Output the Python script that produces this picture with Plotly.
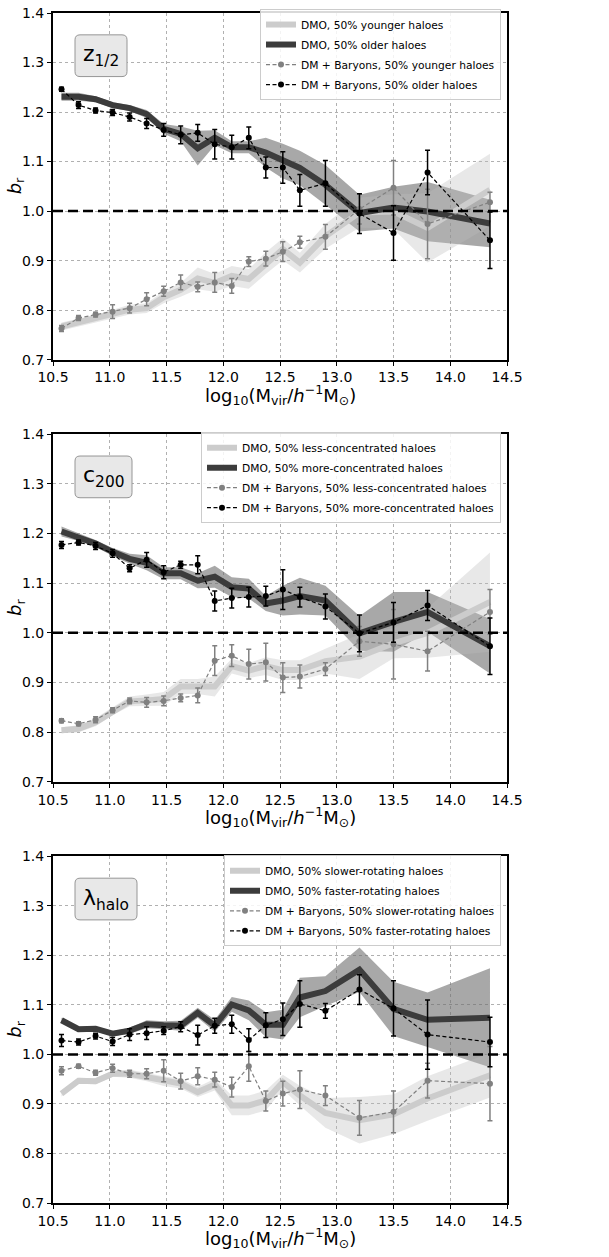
import plotly.graph_objects as go

mass = [10.575, 10.725, 10.875, 11.025, 11.175, 11.325, 11.475, 11.625, 11.775, 11.925,
        12.075, 12.225, 12.375, 12.525, 12.675, 12.9, 13.2, 13.5, 13.8, 14.35]

# Panel 1: z_1/2
z_dmo_young = [0.767, 0.775, 0.782, 0.792, 0.801, 0.804, 0.826, 0.841, 0.864, 0.855,
               0.869, 0.863, 0.895, 0.923, 0.896, 0.949, 0.997, 0.999, 0.966, 1.043]
z_dmo_young_sig = [0.008, 0.008, 0.008, 0.009, 0.01, 0.01, 0.012, 0.014, 0.022, 0.018,
                   0.02, 0.02, 0.022, 0.022, 0.02, 0.025, 0.03, 0.035, 0.07, 0.073]
z_dmo_old = [1.231, 1.231, 1.226, 1.214, 1.208, 1.196, 1.166, 1.156, 1.127, 1.148,
             1.129, 1.129, 1.118, 1.101, 1.087, 1.053, 0.996, 1.007, 0.999, 0.975]
z_dmo_old_sig = [0.008, 0.008, 0.006, 0.006, 0.006, 0.008, 0.01, 0.015, 0.035, 0.015,
                 0.012, 0.012, 0.03, 0.035, 0.035, 0.04, 0.037, 0.042, 0.06, 0.048]
z_dmb_young = [0.763, 0.784, 0.791, 0.797, 0.804, 0.822, 0.838, 0.856, 0.847, 0.856,
               0.849, 0.898, 0.904, 0.918, 0.937, 0.948, 1.004, 1.047, 0.974, 1.018]
z_dmb_young_err = [0.006, 0.005, 0.005, 0.014, 0.01, 0.013, 0.01, 0.015, 0.01, 0.02,
                   0.015, 0.01, 0.015, 0.02, 0.012, 0.025, 0.03, 0.055, 0.07, 0.02]
z_dmb_old = [1.246, 1.214, 1.203, 1.199, 1.190, 1.177, 1.164, 1.154, 1.158, 1.135,
             1.129, 1.148, 1.088, 1.088, 1.042, 1.056, 0.995, 0.956, 1.078, 0.941]
z_dmb_old_err = [0.004, 0.007, 0.005, 0.006, 0.008, 0.01, 0.013, 0.018, 0.017, 0.03,
                 0.024, 0.022, 0.021, 0.032, 0.032, 0.046, 0.04, 0.055, 0.045, 0.057]

# Panel 2: c_200
c_dmo_less = [0.804, 0.807, 0.820, 0.842, 0.862, 0.864, 0.867, 0.892, 0.892, 0.892,
              0.933, 0.924, 0.933, 0.925, 0.925, 0.943, 0.952, 0.979, 1.000, 1.062]
c_dmo_less_sig = [0.006, 0.007, 0.008, 0.008, 0.01, 0.012, 0.014, 0.015, 0.015, 0.02,
                  0.015, 0.015, 0.018, 0.02, 0.02, 0.025, 0.045, 0.03, 0.05, 0.1]
c_dmo_more = [1.204, 1.193, 1.180, 1.163, 1.149, 1.141, 1.120, 1.120, 1.105, 1.113,
              1.092, 1.089, 1.059, 1.065, 1.074, 1.065, 0.999, 1.022, 1.042, 0.973]
c_dmo_more_sig = [0.01, 0.008, 0.007, 0.008, 0.01, 0.015, 0.012, 0.012, 0.015, 0.022,
                  0.02, 0.02, 0.015, 0.03, 0.037, 0.03, 0.035, 0.06, 0.04, 0.055]
c_dmb_less = [0.823, 0.817, 0.825, 0.844, 0.863, 0.860, 0.863, 0.869, 0.874, 0.944,
              0.954, 0.937, 0.941, 0.910, 0.912, 0.927, 0.983, 0.977, 0.963, 1.042]
c_dmb_less_err = [0.004, 0.004, 0.006, 0.005, 0.006, 0.01, 0.01, 0.008, 0.015, 0.03,
                  0.022, 0.03, 0.038, 0.03, 0.023, 0.013, 0.03, 0.07, 0.04, 0.045]
c_dmb_more = [1.177, 1.182, 1.175, 1.160, 1.130, 1.147, 1.122, 1.137, 1.137, 1.064,
              1.070, 1.072, 1.074, 1.087, 1.072, 1.053, 0.999, 1.021, 1.055, 0.973]
c_dmb_more_err = [0.007, 0.005, 0.007, 0.008, 0.007, 0.015, 0.013, 0.007, 0.018, 0.02,
                  0.02, 0.02, 0.02, 0.04, 0.02, 0.025, 0.037, 0.04, 0.03, 0.057]

# Panel 3: lambda_halo
l_dmo_slow = [0.921, 0.947, 0.946, 0.961, 0.961, 0.954, 0.946, 0.941, 0.924, 0.939,
              0.897, 0.897, 0.907, 0.944, 0.917, 0.882, 0.867, 0.879, 0.911, 0.958]
l_dmo_slow_sig = [0.006, 0.006, 0.006, 0.006, 0.008, 0.008, 0.01, 0.01, 0.01, 0.012,
                  0.02, 0.02, 0.02, 0.015, 0.02, 0.03, 0.047, 0.04, 0.045, 0.045]
l_dmo_fast = [1.069, 1.051, 1.052, 1.042, 1.048, 1.061, 1.059, 1.058, 1.084, 1.058,
              1.101, 1.089, 1.060, 1.060, 1.115, 1.128, 1.171, 1.092, 1.070, 1.074]
l_dmo_fast_sig = [0.005, 0.005, 0.005, 0.005, 0.006, 0.008, 0.008, 0.01, 0.01, 0.012,
                  0.015, 0.02, 0.025, 0.03, 0.04, 0.03, 0.045, 0.055, 0.055, 0.1]
l_dmb_slow = [0.967, 0.976, 0.963, 0.972, 0.961, 0.961, 0.967, 0.946, 0.956, 0.949,
              0.934, 0.976, 0.906, 0.921, 0.929, 0.917, 0.872, 0.884, 0.947, 0.941]
l_dmb_slow_err = [0.008, 0.004, 0.005, 0.008, 0.007, 0.01, 0.022, 0.016, 0.017, 0.015,
                  0.02, 0.03, 0.02, 0.025, 0.038, 0.02, 0.035, 0.042, 0.035, 0.075]
l_dmb_fast = [1.028, 1.025, 1.037, 1.026, 1.040, 1.043, 1.048, 1.056, 1.039, 1.058,
              1.061, 1.029, 1.059, 1.071, 1.102, 1.088, 1.131, 1.093, 1.040, 1.025]
l_dmb_fast_err = [0.012, 0.006, 0.006, 0.008, 0.012, 0.013, 0.008, 0.01, 0.02, 0.015,
                  0.018, 0.023, 0.025, 0.033, 0.047, 0.015, 0.03, 0.056, 0.07, 0.05]

panel_labels = ["z<sub>1/2</sub>", "c<sub>200</sub>", "λ<sub>halo</sub>"]
legend_names = [
    ["DMO, 50% younger haloes", "DMO, 50% older haloes",
     "DM + Baryons, 50% younger haloes", "DM + Baryons, 50% older haloes"],
    ["DMO, 50% less-concentrated haloes", "DMO, 50% more-concentrated haloes",
     "DM + Baryons, 50% less-concentrated haloes", "DM + Baryons, 50% more-concentrated haloes"],
    ["DMO, 50% slower-rotating haloes", "DMO, 50% faster-rotating haloes",
     "DM + Baryons, 50% slower-rotating haloes", "DM + Baryons, 50% faster-rotating haloes"],
]
x_title = "log<sub>10</sub>(M<sub>vir</sub>/<i>h</i><sup>−1</sup>M<sub>⊙</sub>)"
y_title = "<i>b</i><sub>r</sub>"

panels = [
    (z_dmo_young, z_dmo_young_sig, z_dmo_old, z_dmo_old_sig, z_dmb_young, z_dmb_young_err, z_dmb_old, z_dmb_old_err),
    (c_dmo_less, c_dmo_less_sig, c_dmo_more, c_dmo_more_sig, c_dmb_less, c_dmb_less_err, c_dmb_more, c_dmb_more_err),
    (l_dmo_slow, l_dmo_slow_sig, l_dmo_fast, l_dmo_fast_sig, l_dmb_slow, l_dmb_slow_err, l_dmb_fast, l_dmb_fast_err),
]

FONT = "DejaVu Sans"
W, H = 609, 1257
ML, MR, MT, MB = 53, 102, 5, 54
plot_h = H - MT - MB
panel_px = [(5, 354), (429, 779), (854, 1203)]
domains = [[(1203 - b) / plot_h, (1203 - t) / plot_h] for t, b in panel_px]
legend_tops = [1, 427, 853]

LIGHT_LINE = "rgb(204,204,204)"
LIGHT_BAND = "rgba(190,190,190,0.35)"
DARK_LINE = "rgb(60,60,60)"
DARK_BAND = "rgba(110,110,110,0.6)"

fig = go.Figure()
layout_axes = {}
shapes = []
annotations = []

for i, (lo, lo_s, hi, hi_s, blo, blo_e, bhi, bhi_e) in enumerate(panels):
    k = "" if i == 0 else str(i + 1)
    xa, ya = "x" + k, "y" + k
    leg = "legend" + k
    names = legend_names[i]
    for vals, sig, col in [(hi, hi_s, DARK_BAND), (lo, lo_s, LIGHT_BAND)]:
        up = [v + s for v, s in zip(vals, sig)]
        dn = [v - s for v, s in zip(vals, sig)]
        fig.add_trace(go.Scatter(x=mass + mass[::-1], y=up + dn[::-1], fill="toself",
                                 fillcolor=col, line=dict(width=0), mode="lines",
                                 hoverinfo="skip", showlegend=False, xaxis=xa, yaxis=ya))
    fig.add_trace(go.Scatter(x=mass, y=lo, mode="lines", line=dict(color=LIGHT_LINE, width=6),
                             name=names[0], legend=leg, legendgroup=f"g{i}a", xaxis=xa, yaxis=ya))
    fig.add_trace(go.Scatter(x=mass, y=hi, mode="lines", line=dict(color=DARK_LINE, width=6),
                             name=names[1], legend=leg, legendgroup=f"g{i}b", xaxis=xa, yaxis=ya))
    for j, (vals, err, col, nm) in enumerate([(blo, blo_e, "rgb(128,128,128)", names[2]),
                                              (bhi, bhi_e, "black", names[3])]):
        fig.add_trace(go.Scatter(x=mass, y=vals, mode="lines+markers",
                                 line=dict(color=col, width=1.2, dash="4px,2.5px"),
                                 marker=dict(color=col, size=6),
                                 error_y=dict(type="data", array=err, visible=True,
                                              color=col, thickness=1.5, width=2.5),
                                 name=nm, legend=leg, legendgroup=f"g{i}c{j}", xaxis=xa, yaxis=ya))

    axis_common = dict(showline=True, linewidth=2, linecolor="black", mirror=True,
                       ticks="outside", ticklen=4, tickwidth=1.2, tickcolor="black",
                       showgrid=True, gridcolor="rgb(176,176,176)", griddash="dot", gridwidth=1,
                       zeroline=False, tickfont=dict(family=FONT, size=14, color="black"))
    layout_axes["xaxis" + k] = dict(axis_common, range=[10.5, 14.5], dtick=0.5, tick0=10.5,
                                    tickformat=".1f", anchor=ya)
    layout_axes["yaxis" + k] = dict(axis_common, range=[0.7, 1.4], dtick=0.1, tick0=0.7,
                                    tickformat=".1f", anchor=xa, domain=domains[i])
    annotations.append(dict(xref=xa + " domain", yref=ya + " domain", x=0.5, y=0, yshift=-35,
                            text=x_title, showarrow=False, xanchor="center", yanchor="middle",
                            font=dict(family=FONT, size=18, color="black")))
    annotations.append(dict(xref=xa + " domain", yref=ya + " domain", x=0, y=0.5, xshift=-37,
                            text=y_title, showarrow=False, xanchor="center", yanchor="middle",
                            textangle=-90, font=dict(family=FONT, size=18, color="black")))
    shapes.append(dict(type="line", xref=xa + " domain", yref=ya, x0=0, x1=1, y0=1.0, y1=1.0,
                       line=dict(color="black", width=2.5, dash="10px,5px")))
    t, b = panel_px[i]
    ph = b - t
    pw = 454
    box_w = [52, 57, 62][i]
    bx0, bx1 = 22 / pw, (22 + box_w) / pw
    by1 = 1 - 22 / ph
    by0 = 1 - 64 / ph
    rx, ry = 5 / pw, 5 / ph
    path = (f"M {bx0+rx},{by0} L {bx1-rx},{by0} Q {bx1},{by0} {bx1},{by0+ry} "
            f"L {bx1},{by1-ry} Q {bx1},{by1} {bx1-rx},{by1} L {bx0+rx},{by1} "
            f"Q {bx0},{by1} {bx0},{by1-ry} L {bx0},{by0+ry} Q {bx0},{by0} {bx0+rx},{by0} Z")
    shapes.append(dict(type="path", xref=xa + " domain", yref=ya + " domain", path=path,
                       fillcolor="rgb(232,232,232)", line=dict(color="rgb(150,150,150)", width=1),
                       layer="above"))
    annotations.append(dict(xref=xa + " domain", yref=ya + " domain", x=(bx0 + bx1) / 2,
                            y=(by0 + by1) / 2, text=panel_labels[i], showarrow=False,
                            font=dict(family=FONT, size=22, color="black"),
                            xanchor="center", yanchor="middle"))
    layout_axes[leg] = dict(x=(501 - ML) / 454, y=(1203 - legend_tops[i]) / plot_h,
                            xanchor="right", yanchor="top", xref="paper", yref="paper",
                            bgcolor="rgba(255,255,255,0.85)", bordercolor="rgb(204,204,204)",
                            borderwidth=1, font=dict(family=FONT, size=10.7, color="black"),
                            tracegroupgap=1, itemwidth=30)

fig.update_layout(width=W, height=H, margin=dict(l=ML, r=MR, t=MT, b=MB),
                  plot_bgcolor="white", paper_bgcolor="white",
                  font=dict(family=FONT, color="black"),
                  shapes=shapes, annotations=annotations, **layout_axes)

fig.write_html("out.html")
